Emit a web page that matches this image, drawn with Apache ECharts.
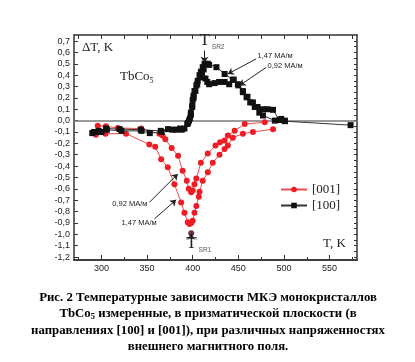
<!DOCTYPE html>
<html><head><meta charset="utf-8">
<script src="https://cdn.jsdelivr.net/npm/echarts@6/dist/echarts.min.js"></script>
<style>html,body{margin:0;padding:0;background:#fff}#c{width:415px;height:362px}</style>
</head><body><div id="c"></div>
<script>
// ---- data (K, ΔT K) ----
const red092 = [[296,-0.045],[305,-0.05],[318,-0.065],[343.5,-0.07],[363.5,-0.115],[367,-0.13],[370,-0.165],[377,-0.24],[384,-0.31],[389,-0.44],[393.5,-0.53],[395.7,-0.60],[398.4,-0.63],[400,-0.615],[402,-0.56],[404,-0.51],[409,-0.37],[416.5,-0.29],[425,-0.22],[430,-0.19],[435,-0.175],[438.5,-0.13],[446,-0.09],[457,-0.03],[479,-0.015]];
const red147 = [[294,-0.125],[304.5,-0.115],[327,-0.115],[352.5,-0.21],[359,-0.23],[365.5,-0.34],[372.7,-0.41],[380,-0.56],[387.4,-0.72],[391,-0.81],[394.6,-0.895],[396.5,-0.91],[398.4,-0.90],[400,-0.88],[402,-0.81],[404,-0.75],[406.7,-0.67],[407.5,-0.625],[411,-0.53],[416.6,-0.455],[422,-0.37],[429.4,-0.30],[435,-0.25],[438.5,-0.22],[444,-0.15],[455,-0.115],[466,-0.10],[488,-0.075]];
const black147 = [[290,-0.11],[297,-0.09],[305,-0.07],[320,-0.075],[343,-0.08],[365,-0.09],[378,-0.08],[386,-0.07],[391,-0.07],[395,-0.02],[397,0.02],[398,0.07],[399.5,0.13],[400,0.18],[401,0.22],[402,0.26],[404,0.31],[405.5,0.35],[407.5,0.40],[409,0.43],[411,0.47],[413,0.50],[416.5,0.50],[418,0.49],[426,0.47],[435,0.41],[444,0.36],[449.5,0.32],[455,0.26],[460,0.21],[466,0.16],[471,0.12],[477,0.10],[482,0.10],[488,0.095],[495,0.005],[501,-0.005],[573,-0.04]];
const black092 = [[292,-0.1],[296,-0.1],[300,-0.1],[306,-0.08],[322,-0.09],[344,-0.09],[353,-0.11],[366,-0.10],[373,-0.075],[382,-0.08],[388,-0.08],[394,-0.03],[396,0.0],[398,0.05],[399.5,0.12],[401,0.2],[403,0.26],[405,0.32],[408,0.38],[410,0.42],[412,0.45],[414,0.37],[416,0.34],[418,0.32],[424,0.33],[429,0.34],[435,0.34],[440,0.32],[445,0.36],[450,0.31],[455,0.25],[459,0.205],[463,0.16],[468,0.12],[473,0.07],[477,0.045],[490,0.0],[497,0.015],[501,0.0]];
const tsr1Point = [[398.4,-0.99]];
const xLabels = [300,350,400,450,500,550];
const xMinor = [275,325,375,425,475,525,575];
const xTop = [275,300,325,350,375,400,425,450,475,500,525,550,575];
const yLabels = [-1.2,-1.1,-1.0,-0.9,-0.8,-0.7,-0.6,-0.5,-0.4,-0.3,-0.2,-0.1,0.0,0.1,0.2,0.3,0.4,0.5,0.6,0.7];
const yRight = [-1.2,-1.15,-1.1,-1.05,-1.0,-0.95,-0.9,-0.85,-0.8,-0.75,-0.7,-0.65,-0.6,-0.55,-0.5,-0.45,-0.4,-0.35,-0.3,-0.25,-0.2,-0.15,-0.1,-0.05,0.0,0.05,0.1,0.15,0.2,0.25,0.3,0.35,0.4,0.45,0.5,0.55,0.6,0.65,0.7];
// arrows [from, to]
const arrows = [
  [[412.9,0.616],[412.9,0.51]],
  [[469.6,0.543],[438.5,0.41]],
  [[480.6,0.469],[451.3,0.308]],
  [[352.6,-0.719],[383.7,-0.469]],
  [[358.1,-0.865],[381.9,-0.697]],
  [[398.4,-1.035],[398.4,-0.995]]
];
const fieldLabels = [
  {text:'1,47 MA/м', at:[471,0.57]},
  {text:'0,92 MA/м', at:[482,0.484]},
  {text:'0,92 MA/м', at:[312,-0.73]},
  {text:'1,47 MA/м', at:[322,-0.897]}
];
const tLabels = [
  {sub:'SR2', at:[412.9,0.70]},
  {sub:'SR1', at:[398.4,-1.085]}
];
const caption = [
  'Рис. 2 Температурные зависимости МКЭ монокристаллов',
  'TbCo{s|5} измеренные, в призматической плоскости (в',
  'направлениях [100] и [001]), при различных напряженностях',
  'внешнего магнитного поля.'
];

const RED = '#ee1c24', BLACK = '#111';
const axisCol = '#333';
const chart = echarts.init(document.getElementById('c'), null, {renderer:'canvas'});
const baseX = {type:'value', min:270, max:580, gridIndex:0, splitLine:{show:false},
  axisLine:{show:true, onZero:false, lineStyle:{color:axisCol, width:1.5}}};
const baseY = {type:'value', min:-1.226, max:0.753, gridIndex:0, splitLine:{show:false},
  axisLine:{show:true, onZero:false, lineStyle:{color:axisCol, width:1.5}}};
chart.setOption({
  animation:false,
  grid:{left:74, right:58, top:35, bottom:102, containLabel:false},
  legend:{data:['[001]','[100]'], orient:'vertical', left:275, top:178, itemGap:3,
    itemWidth:26, itemHeight:7, textStyle:{fontFamily:'Liberation Serif', fontSize:13, color:'#222'}},
  xAxis:[
    Object.assign({}, baseX, {position:'bottom',
      axisTick:{show:true, inside:true, length:5, customValues:xLabels, lineStyle:{color:axisCol}},
      axisLabel:{show:true, customValues:xLabels, margin:4, fontFamily:'Liberation Sans', fontSize:9, color:'#222'}}),
    Object.assign({}, baseX, {position:'bottom',
      axisTick:{show:true, inside:true, length:3, customValues:xMinor, lineStyle:{color:axisCol}},
      axisLabel:{show:false}}),
    Object.assign({}, baseX, {position:'top',
      axisTick:{show:true, inside:true, length:4, customValues:xTop, lineStyle:{color:axisCol}},
      axisLabel:{show:false}})
  ],
  yAxis:[
    Object.assign({}, baseY, {position:'left',
      axisTick:{show:true, inside:true, length:4, customValues:yLabels, lineStyle:{color:axisCol}},
      axisLabel:{show:true, customValues:yLabels, margin:4, fontFamily:'Liberation Sans', fontSize:9, color:'#222',
        formatter:v=>v.toFixed(1).replace('.',',')}}),
    Object.assign({}, baseY, {position:'right',
      axisTick:{show:true, inside:true, length:3, customValues:yRight, lineStyle:{color:axisCol}},
      axisLabel:{show:false}})
  ],
  series:[
    {name:'[001]', type:'line', data:red092, symbol:'circle', symbolSize:6, itemStyle:{color:RED},
      lineStyle:{color:'#f04a4a', width:1}, z:3},
    {name:'[001]', type:'line', data:red147, symbol:'circle', symbolSize:6, itemStyle:{color:RED},
      lineStyle:{color:'#f04a4a', width:1}, z:3},
    {name:'[100]', type:'line', data:black147, symbol:'rect', symbolSize:6, itemStyle:{color:BLACK},
      lineStyle:{color:'#333', width:1}, z:4},
    {name:'[100]', type:'line', data:black092, symbol:'rect', symbolSize:6, itemStyle:{color:BLACK},
      lineStyle:{color:'#333', width:1}, z:4},
    {name:'tsr1', type:'scatter', data:tsr1Point, symbol:'circle', symbolSize:6,
      itemStyle:{color:'#3a0d0d'}, z:5,
      markLine:{silent:true, symbol:['none','none'], label:{show:false},
        lineStyle:{color:'#7a7a7a', width:1.5, type:'solid'}, z:1,
        data:[{yAxis:0}]}},
    {name:'arrows', type:'line', data:[], z:6,
      markLine:{silent:true, symbol:['none','arrow'], symbolSize:6, label:{show:false},
        lineStyle:{color:'#222', width:1, type:'solid'},
        data:arrows.map(a=>[{coord:a[0]},{coord:a[1]}])}}
  ]
});

function px(p){ return chart.convertToPixel({gridIndex:0}, p); }
const g = [];
fieldLabels.forEach(f=>{
  const p = px(f.at);
  g.push({type:'text', x:p[0], y:p[1], style:{text:f.text, fill:'#222', font:'7.5px "Liberation Sans"', textAlign:'left', textVerticalAlign:'middle'}});
});
tLabels.forEach(t=>{
  const p = px(t.at);
  g.push({type:'text', x:p[0]-5, y:p[1], style:{text:'T{s|'+t.sub+'}', fill:'#222', font:'17px "Liberation Serif"', textAlign:'left', textVerticalAlign:'middle',
    rich:{s:{fontSize:6.5, fontFamily:'Liberation Sans', fill:'#555', verticalAlign:'bottom', padding:[12,0,0,2]}}}});
});
g.push({type:'text', x:82, y:48, style:{text:'ΔT, K', fill:'#222', font:'13px "Liberation Serif"', textVerticalAlign:'middle'}});
g.push({type:'text', x:120, y:77, style:{text:'TbCo{s|5}', fill:'#222', font:'13px "Liberation Serif"', textVerticalAlign:'middle',
  rich:{s:{fontSize:8, fontFamily:'Liberation Serif', verticalAlign:'bottom', padding:[8,0,0,0]}}}});
g.push({type:'text', x:323, y:244, style:{text:'T, K', fill:'#222', font:'13px "Liberation Serif"', textVerticalAlign:'middle'}});
const capY = [298, 314, 331, 347];
caption.forEach((c,i)=>{
  g.push({type:'text', x:208, y:capY[i], style:{text:c, fill:'#000', font:'bold 12.8px "Liberation Serif"', textAlign:'center', textVerticalAlign:'middle',
    rich:{s:{fontSize:8.5, fontWeight:'bold', fontFamily:'Liberation Serif', verticalAlign:'bottom', padding:[6,0,0,0]}}}});
});
chart.setOption({graphic:g});
</script></body></html>
